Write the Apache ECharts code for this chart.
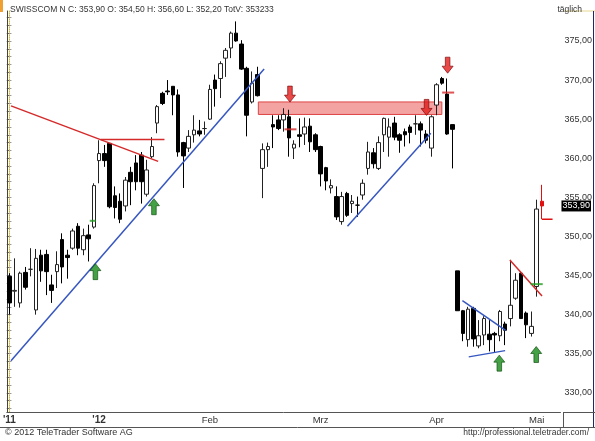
<!DOCTYPE html>
<html>
<head>
<meta charset="utf-8">
<script src="https://cdn.jsdelivr.net/npm/echarts@6/dist/echarts.min.js"></script>
<style>
  html, body { margin: 0; padding: 0; background: #fff; }
  #chart { width: 595px; height: 441px; }
</style>
</head>
<body>
<div id="chart"></div>
<script>
// Tagesdaten (Eröffnung, Schluss, Tief, Hoch)
var opens = [344.9, 343.0, 341.5, 345.4, 345.8, 340.6, 347.6, 347.7, 343.8, 345.5, 349.6, 347.6, 348.5, 351.3, 348.3, 350.2, 351.2,
  359.7, 360.6, 361.9, 355.2, 354.5, 353.9, 358.2, 359.4, 360.4, 355.4, 360.2, 364.5, 368.3, 368.6, 369.2, 368.1, 362.0, 361.3, 363.0, 363.5, 363.8,
  365.0, 370.0, 370.2, 372.8, 374.1, 376.0, 374.6, 371.5, 367.2, 370.7, 358.7, 361.1, 364.3, 364.9, 364.9, 365.3, 361.3, 363.0, 363.1, 364.1, 363.0,
  361.5, 358.8, 356.2, 355.1, 351.9, 355.5, 354.2, 354.0, 355.3, 358.7, 360.7, 358.7, 363.0, 362.7, 364.5, 363.0, 363.4, 364.0, 364.4, 364.4, 363.1, 361.3,
  366.8, 370.2, 368.2, 364.3, 345.6, 340.5, 336.8, 340.8, 336.0, 337.4, 337.5, 337.6, 337.3, 338.8, 339.5, 342.1, 345.3, 340.2, 337.6,
  343.6, 354.5];
var closes = [341.5, 343.1, 345.3, 343.5, 345.8, 347.2, 345.6, 345.5, 343.1, 346.4, 346.1, 347.3, 350.7, 348.5, 350.1, 349.7, 356.5,
  360.6, 359.7, 353.8, 353.7, 352.2, 357.2, 357.0, 357.0, 357.0, 358.5, 361.5, 366.6, 367.0, 368.5, 368.1, 360.8, 360.3, 362.8, 363.6, 363.1, 363.8,
  368.8, 368.9, 372.1, 373.8, 376.0, 375.0, 371.4, 365.5, 369.6, 368.0, 361.1, 361.5, 364.0, 363.8, 365.6, 362.6, 361.8, 362.8, 364.0, 362.1, 361.1,
  358.0, 357.1, 356.5, 352.5, 355.1, 352.7, 354.5, 354.0, 356.8, 360.8, 359.3, 362.0, 365.1, 364.0, 362.7, 362.3, 363.0, 363.3, 364.4, 363.6, 362.3, 365.3,
  369.4, 369.6, 363.1, 363.7, 340.5, 337.6, 340.7, 336.9, 337.3, 339.5, 336.8, 337.4, 340.4, 338.0, 341.2, 344.4, 339.5, 338.7, 338.5,
  353.5, 353.9];
var lows = [340.0, 341.0, 340.9, 343.2, 344.9, 340.0, 344.2, 342.5, 341.5, 343.4, 344.0, 344.6, 348.3, 347.6, 347.6, 346.8, 351.0,
  356.8, 358.9, 353.6, 352.3, 351.7, 353.2, 354.0, 355.9, 354.2, 355.1, 360.0, 363.2, 366.8, 368.1, 365.5, 360.2, 356.2, 360.8, 362.0, 362.8, 363.0,
  364.9, 366.6, 367.7, 370.4, 372.8, 374.9, 371.3, 362.8, 367.0, 367.9, 354.9, 358.9, 361.3, 363.6, 363.4, 360.2, 359.9, 361.4, 361.7, 360.8, 360.8,
  356.4, 355.9, 355.5, 352.1, 351.5, 352.5, 353.0, 352.5, 354.7, 357.9, 358.7, 358.5, 360.8, 360.2, 362.3, 360.7, 361.5, 361.9, 363.0, 361.5, 361.9, 360.2,
  365.5, 369.4, 363.0, 358.7, 340.5, 336.6, 335.9, 335.9, 335.7, 336.1, 335.3, 335.1, 336.6, 336.1, 338.5, 341.9, 339.5, 337.0, 337.2,
  342.3, 352.2];
var highs = [345.3, 347.2, 345.5, 346.1, 348.5, 348.4, 348.3, 348.3, 345.1, 348.1, 350.4, 348.3, 351.0, 351.7, 351.0, 351.5, 356.8,
  362.3, 361.7, 361.9, 356.4, 355.5, 357.6, 358.9, 360.4, 360.8, 359.8, 362.7, 366.8, 368.5, 370.0, 369.2, 368.8, 362.1, 363.6, 365.5, 364.9, 364.7,
  369.4, 370.7, 372.4, 374.1, 376.2, 377.5, 375.1, 371.7, 371.1, 371.7, 361.9, 362.0, 365.5, 365.5, 366.4, 366.2, 362.3, 365.1, 365.2, 365.1, 363.2,
  361.6, 358.9, 357.3, 356.4, 355.7, 355.7, 355.3, 355.1, 357.3, 362.1, 361.3, 362.8, 365.2, 365.1, 365.3, 363.2, 363.8, 364.3, 365.5, 364.7, 363.6, 365.5,
  369.6, 370.4, 370.2, 364.3, 345.6, 340.6, 341.0, 341.0, 339.3, 339.8, 339.3, 337.8, 340.6, 339.1, 347.0, 345.3, 345.5, 340.4, 340.4,
  354.7, 356.6];

// Handelstage
var firstDay = '2011-12-07';
var dayCount = 105;
var holidays = ['2011-12-26', '2012-01-02', '2012-04-06', '2012-04-09', '2012-05-01'];

// Achsenbeschriftung
var monthDates = ['2011-12-07', '2012-01-03', '2012-02-01', '2012-03-01', '2012-04-02', '2012-05-02'];
var monthLabels = ["'11", "'12", 'Feb', 'Mrz', 'Apr', 'Mai'];
var priceTicks = [330, 335, 340, 345, 350, 355, 360, 365, 370, 375];

// Trendlinien & Marken (x = Tagesindex, y = Kurs)
var redTrend1 = [[0.3, 366.7], [28.2, 359.6]];
var redLevel = [[17.3, 362.4], [29.4, 362.4]];
var blueTrend1 = [[0.3, 334.1], [48.3, 371.4]];
var resistBox = [[47.2, 367.2], [82.0, 365.6]];
var blueTrend2 = [[64.1, 351.3], [79.9, 363.2]];
var triUpper = [[85.9, 341.8], [94.1, 338.0]];
var triLower = [[87.1, 334.6], [94.0, 335.4]];
var redTrend2 = [[94.9, 347.0], [101.0, 342.4]];
var lastLow = [[101.0, 352.2], [103.0, 352.2]];
var greenArrows = [[16.3, 345.5], [27.4, 353.8], [92.9, 333.8], [99.9, 334.9]];
var redArrows = [[53.2, 368.2], [79.1, 366.5], [83.1, 371.9]];
var redTicks = [[53.3, 363.7], [83.2, 368.4]];
var greenTicks = [[15.8, 352.0, 6], [100.0, 343.9, 12]];
var lastClose = 353.9;

function tradingDays(start, n, skip) {
  var out = [];
  var d = new Date(start + 'T12:00:00Z');
  while (out.length < n) {
    var s = d.toISOString().slice(0, 10);
    var wd = d.getUTCDay();
    if (wd !== 0 && wd !== 6 && skip.indexOf(s) < 0) out.push(s);
    d.setUTCDate(d.getUTCDate() + 1);
  }
  return out;
}
var days = tradingDays(firstDay, dayCount, holidays);
var monthIdx = monthDates.map(function (m) { return days.indexOf(m); });

var candles = opens.map(function (o, i) {
  var v = [o, closes[i], lows[i], highs[i]];
  if (i === opens.length - 1) {
    return { value: v, itemStyle: { color: '#e01010', color0: '#e01010', borderColor: '#e01010', borderColor0: '#e01010' } };
  }
  return v;
});

function fmt(v) { return v.toFixed(2).replace('.', ','); }
function minorTicks() { var a = []; for (var v = 328; v <= 378; v++) a.push(v); return a; }

var upArrow = 'path://M6,0L12,7L8.5,7L8.5,16L3.5,16L3.5,7L0,7Z';
var downArrow = 'path://M3.5,0L8.5,0L8.5,9L12,9L6,16L0,9L3.5,9Z';

function seg(data, color) {
  return {
    type: 'line', xAxisIndex: 1, yAxisIndex: 0, data: data, symbol: 'none', silent: true,
    lineStyle: { color: color, width: 1.5 }, z: 5
  };
}

var chart = echarts.init(document.getElementById('chart'));
var FONT = 'Liberation Sans';

var option = {
  animation: false,
  backgroundColor: '#fff',
  textStyle: { fontFamily: FONT },
  title: [
    { text: 'SWISSCOM N C: 353,90 O: 354,50 H: 356,60 L: 352,20 TotV: 353233', left: 5, top: 0,
      textStyle: { fontSize: 8.5, fontWeight: 'normal', color: '#333', fontFamily: FONT } },
    { text: 'täglich', right: 8, top: 0,
      textStyle: { fontSize: 8.5, fontWeight: 'normal', color: '#333', fontFamily: FONT } },
    { text: '© 2012 TeleTrader Software AG', left: 0, bottom: -1,
      textStyle: { fontSize: 9, fontWeight: 'normal', color: '#333', fontFamily: FONT } },
    { text: 'http://professional.teletrader.com/', right: 1, bottom: -1,
      textStyle: { fontSize: 8.5, fontWeight: 'normal', color: '#333', fontFamily: FONT } }
  ],
  grid: { left: 3, right: 32, top: 11, bottom: 29 },
  xAxis: [{
    type: 'category',
    data: days,
    boundaryGap: true,
    axisLine: { lineStyle: { color: '#555' } },
    axisTick: { interval: function (i) { return monthIdx.indexOf(i) >= 0; }, alignWithLabel: true, length: 3, lineStyle: { color: '#555' } },
    axisLabel: {
      interval: function (i) { return monthIdx.indexOf(i) >= 0; },
      formatter: function (v) {
        var k = monthDates.indexOf(v);
        if (k < 0) return '';
        return k < 2 ? '{b|' + monthLabels[k] + '}' : monthLabels[k];
      },
      rich: { b: { fontWeight: 'bold', fontSize: 10, color: '#333', fontFamily: FONT } },
      color: '#333', fontSize: 9.5, margin: 3
    },
    splitLine: { show: false }
  }, {
    type: 'value', min: -0.5, max: dayCount - 0.5, show: false
  }],
  yAxis: [{
    type: 'value', position: 'right', min: 327.55, max: 378.83, scale: true,
    axisLine: { show: true, lineStyle: { color: '#d8b830', type: 'dotted', width: 1 } },
    axisTick: { show: true, customValues: minorTicks(), length: 2, lineStyle: { color: '#999' } },
    axisLabel: { customValues: priceTicks, formatter: fmt, color: '#333', fontSize: 9, margin: 4 },
    splitLine: { show: false }
  }, {
    type: 'value', position: 'left', min: 327.55, max: 378.83, scale: true,
    axisLine: { show: true, lineStyle: { color: '#444' } },
    axisTick: { show: true, inside: true, customValues: minorTicks(), length: 2, lineStyle: { color: '#444' } },
    axisLabel: { show: false },
    splitLine: { show: false }
  }],
  series: [
    {
      type: 'candlestick', data: candles, barWidth: 4,
      itemStyle: { color: '#fff', color0: '#000', borderColor: '#222', borderColor0: '#000', borderWidth: 1 },
      markLine: {
        silent: true, symbol: 'none',
        lineStyle: { color: 'rgba(0,0,0,0)', width: 0 },
        label: { show: true, position: 'end', distance: 1, formatter: fmt(lastClose), backgroundColor: '#000', color: '#fff',
          padding: [1, 1], fontSize: 9, fontFamily: FONT },
        data: [{ yAxis: lastClose }]
      },
      z: 3
    },
    seg(redTrend1, '#d42a2a'),
    Object.assign(seg(redLevel, '#d42a2a'), {
      markArea: {
        silent: true,
        itemStyle: { color: '#f4a3a3', borderColor: '#d44', borderWidth: 1 },
        data: [[{ coord: resistBox[0] }, { coord: resistBox[1] }]]
      }
    }),
    seg(blueTrend1, '#3656c0'),
    seg(blueTrend2, '#3656c0'),
    seg(triUpper, '#3656c0'),
    seg(triLower, '#3656c0'),
    seg(redTrend2, '#d42a2a'),
    seg(lastLow, '#e01010'),
    {
      type: 'scatter', xAxisIndex: 1, data: redTicks, symbol: 'rect', symbolSize: [12, 2],
      itemStyle: { color: '#d42a2a' }, silent: true, z: 6
    },
    {
      type: 'scatter', xAxisIndex: 1, data: greenTicks, symbol: 'rect',
      symbolSize: function (v) { return [v[2], 2]; },
      itemStyle: { color: '#22a022' }, silent: true, z: 6
    },
    {
      type: 'scatter', xAxisIndex: 1, data: greenArrows, symbol: upArrow, symbolSize: [11, 16],
      itemStyle: { color: '#178a17', borderColor: '#0b4a0b', borderWidth: 0.8 }, silent: true, z: 7
    },
    {
      type: 'scatter', xAxisIndex: 1, data: redArrows, symbol: downArrow, symbolSize: [11, 16],
      itemStyle: { color: '#e21b1b', borderColor: '#7a0000', borderWidth: 0.8 }, silent: true, z: 7
    }
  ],
  graphic: [
    { type: 'rect', shape: { x: 0, y: 0, width: 3, height: 12 }, style: { fill: '#f0a030' } },
    { type: 'line', shape: { x1: 563, y1: 11, x2: 595, y2: 11 }, style: { stroke: '#e8d890', lineWidth: 1 } },
    { type: 'line', shape: { x1: 593.5, y1: 11, x2: 593.5, y2: 427 }, style: { stroke: '#1c2a6a', lineWidth: 1 } },
    { type: 'line', shape: { x1: 0, y1: 427.5, x2: 595, y2: 427.5 }, style: { stroke: '#555', lineWidth: 1 } },
    { type: 'line', shape: { x1: 563, y1: 412.5, x2: 595, y2: 412.5 }, style: { stroke: '#555', lineWidth: 1 } },
    { type: 'line', shape: { x1: 563.5, y1: 412, x2: 563.5, y2: 427 }, style: { stroke: '#555', lineWidth: 1 } }
  ]
};

chart.setOption(option);
</script>
</body>
</html>
